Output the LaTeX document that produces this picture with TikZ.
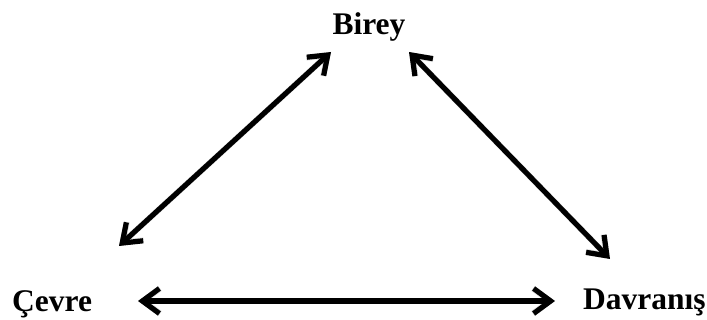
\documentclass[tikz,border=0pt]{standalone}
\usepackage{fontspec}
\setmainfont{Liberation Serif}
\usetikzlibrary{arrows.meta}
\begin{document}
\begin{tikzpicture}[x=1pt,y=1pt,
  label/.style={inner sep=0pt, font=\fontsize{31.5}{31.5}\selectfont\bfseries},
  twoway/.style={line width=5.2pt, {Straight Barb[length=17pt,width=25pt]}-{Straight Barb[length=17pt,width=25pt]}},
  twowayshadow/.style={twoway, draw=black!35, opacity=0.35, line width=6pt}]
\useasboundingbox (0,0) rectangle (707,320);
% terms
\node[label, anchor=base] (birey) at (369,285) {Birey};
\node[label, anchor=base west] (cevre) at (12,8) {Çevre};
\node[label, anchor=base west] (davranis) at (583,10) {Davranış};
% arrow ends
\coordinate (bl) at (331,268);
\coordinate (br) at (409,268);
\coordinate (cu) at (119,74);
\coordinate (cr) at (138,19);
\coordinate (dl) at (555,19);
\coordinate (du) at (610,61);
% soft shadows
\begin{scope}[shift={(1.5,-2)}]
\draw[twowayshadow] (cu) -- (bl);
\draw[twowayshadow] (br) -- (du);
\draw[twowayshadow] (cr) -- (dl);
\end{scope}
% links
\draw[twoway] (cu) -- (bl);
\draw[twoway] (br) -- (du);
\draw[twoway] (cr) -- (dl);
\end{tikzpicture}
\end{document}
